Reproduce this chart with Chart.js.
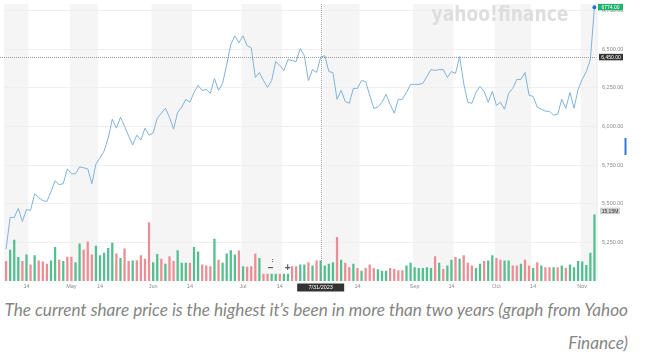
<!DOCTYPE html>
<html>
<head>
<meta charset="utf-8">
<script src="https://cdn.jsdelivr.net/npm/chart.js@4.4.0/dist/chart.umd.min.js"></script>
<style>
  html, body { margin: 0; padding: 0; background: #fff; }
  #wrap { position: relative; width: 645px; height: 358px; overflow: hidden; }
  canvas { position: absolute; left: 0; top: 0; }
  .cap { position: absolute; right: 17px; font-family: Lato, "Open Sans", sans-serif; font-style: italic; font-weight: 400; color: #858585; font-size: 17px; white-space: nowrap; line-height: 20px; }
</style>
</head>
<body>
<div id="wrap">
  <canvas id="c" width="645" height="297"></canvas>
  <div class="cap" id="cap1" style="top:300px">The current share price is the highest it’s been in more than two years (graph from Yahoo</div>
  <div class="cap" id="cap2" style="top:333px">Finance)</div>
</div>
<script>
// ---------------- data ----------------
const firstDay = '2023-04-07';
const lastDay = '2023-11-07';
const holidays = ['2023-05-03','2023-05-04','2023-05-05','2023-07-17','2023-08-11','2023-09-18','2023-10-09','2023-11-03'];

const prices = [5204,5410,5410,5468,5384,5461,5455,5564,5539,5519,
5513,5577,5648,5622,5629,5725,5693,5693,5738,5732,
5725,5629,5757,5796,5841,5925,6047,5989,6060,6002,
5938,5880,5944,5912,5989,5944,5957,6054,6086,6118,
6060,5983,6092,6125,6176,6157,6221,6266,6234,6240,
6215,6311,6234,6279,6401,6530,6588,6543,6588,6524,
6511,6318,6350,6298,6253,6298,6421,6395,6363,6434,
6427,6421,6505,6459,6298,6369,6350,6450,6459,6356,
6350,6176,6234,6163,6150,6247,6247,6298,6292,6202,
6118,6125,6157,6208,6144,6086,6176,6176,6221,6273,
6273,6273,6279,6324,6369,6363,6369,6369,6318,6356,
6344,6453,6279,6157,6150,6221,6260,6228,6157,6228,
6137,6157,6112,6215,6247,6305,6305,6350,6202,6195,
6125,6112,6099,6099,6073,6079,6176,6118,6221,6118,
6240,6305,6356,6434,6774];

// volume in millions
const volumes = [4.5,7.1,9.4,5.4,4.5,6.0,3.7,5.8,4.6,4.4,
3.9,4.6,7.7,4.8,4.5,5.5,5.5,4.2,8.5,7.1,
9.0,6.0,8.0,5.8,6.4,7.5,8.7,6.2,5.2,7.4,
4.5,4.6,4.7,5.8,5.0,13.4,4.2,6.1,5.0,3.9,
5.6,4.5,7.0,4.1,4.1,4.1,7.7,6.7,3.7,3.5,
3.3,9.6,4.8,4.1,6.2,7.0,6.0,6.9,3.3,3.2,
3.3,6.2,5.2,1.6,1.6,1.6,1.6,1.6,1.6,1.6,
3.3,3.3,3.7,3.7,4.2,3.5,4.6,4.6,3.5,3.9,
4.2,10.0,4.8,4.1,3.1,3.9,2.9,2.3,2.9,3.7,
2.9,2.6,2.3,2.3,2.9,2.7,2.4,2.4,3.5,4.1,
3.1,2.9,2.9,3.1,2.9,5.6,4.1,2.7,3.5,4.8,
5.4,5.0,5.8,4.1,3.5,2.9,3.9,4.5,4.6,5.8,
5.2,4.8,4.6,4.6,3.5,3.5,3.9,4.8,3.5,2.9,
4.2,3.5,3.1,3.1,3.1,3.1,3.5,2.9,3.7,3.1,
4.5,4.4,3.6,6.4,15.15];

// 1 = up day, 0 = down day
const volumeUp = [0,1,1,1,0,1,0,1,0,0,
0,1,1,0,1,0,0,1,1,0,
0,0,1,1,1,1,1,0,1,0,
0,1,0,0,0,0,1,1,0,1,
0,0,1,1,1,0,1,1,0,0,
0,1,0,1,1,1,1,0,1,0,
0,0,1,0,0,1,1,0,1,1,
0,0,1,1,0,1,0,1,1,1,
1,0,1,0,0,1,0,1,0,0,
0,1,1,1,0,0,0,0,1,1,
1,1,1,1,1,0,1,0,1,1,
0,1,0,0,0,1,1,0,1,1,
0,0,1,1,0,0,1,0,0,1,
0,1,0,0,1,0,1,0,1,1,
1,1,1,1,1];

const priceTicks = [5250,5500,5750,6000,6250,6500,6750];
const xTickDates = ['2023-04-14','2023-05-01','2023-05-15','2023-06-01','2023-06-14','2023-07-03','2023-07-14','2023-08-14','2023-09-01','2023-09-14','2023-10-02','2023-10-16','2023-11-01'];
const xTickTexts = ['14','May','14','Jun','14','Jul','14','14','Sep','14','Oct','14','Nov'];
const crossDate = '2023-07-31';
const crossDateText = '7/31/2023';
const lastPriceText = '6774.00';
const lastVolumeText = '15.15M';

// trading calendar (weekdays minus exchange holidays)
function tradingDays(a, b, hol) {
  const out = [];
  const d = new Date(a + 'T00:00:00Z'), end = new Date(b + 'T00:00:00Z');
  while (d <= end) {
    const s = d.toISOString().slice(0, 10);
    const wd = d.getUTCDay();
    if (wd !== 0 && wd !== 6 && !hol.includes(s)) out.push(s);
    d.setUTCDate(d.getUTCDate() + 1);
  }
  return out;
}
const dates = tradingDays(firstDay, lastDay, holidays);
const tickMap = {};
xTickDates.forEach((d, i) => tickMap[d] = xTickTexts[i]);

const GREEN = '#52bf8f', RED = '#ee8c94', LINE = '#80b3dd';
const fmt = v => v.toLocaleString('en-US', {minimumFractionDigits: 2, maximumFractionDigits: 2});

// ---------------- plugin: bands, crosshair, tags ----------------
const deco = {
  id: 'deco',
  beforeDraw(chart) {
    const {ctx, chartArea: a, scales: {x}} = chart;
    const w = x.getPixelForValue(1) - x.getPixelForValue(0);
    ctx.save();
    ctx.fillStyle = '#f5f5f5';
    const months = {};
    dates.forEach((d, i) => {
      const m = d.slice(0, 7), day = +d.slice(8, 10);
      if (!(m in months)) months[m] = {s: i, e: null};
      if (day <= 14) months[m].e = i;
    });
    Object.keys(months).forEach((m, k) => {
      const r = months[m];
      if (r.e === null) r.e = dates.length - 1;
      const x0 = k === 0 ? a.left : x.getPixelForValue(r.s) - w * 0.4;
      let x1 = x.getPixelForValue(r.e) + w * 0.5;
      if (r.e === dates.length - 1) x1 = a.right;
      ctx.fillRect(x0, a.top, Math.min(x1, a.right) - x0, a.bottom - a.top);
    });
    ctx.restore();
  },
  beforeDatasetsDraw(chart) {
    const {ctx, chartArea: a} = chart;
    ctx.save();
    ctx.font = 'bold 22px "DejaVu Sans", "Liberation Sans", Arial, sans-serif';
    ctx.fillStyle = '#dedede';
    ctx.textBaseline = 'middle';
    ctx.textAlign = 'right';
    const t = 'yahoo!finance';
    const tw = ctx.measureText(t).width;
    ctx.translate(a.right - 28, 15);
    ctx.scale(137 / tw, 1);
    ctx.fillText(t, 0, 0);
    ctx.restore();
  },
  afterDatasetsDraw(chart) {
    const {ctx, chartArea: a, scales: {x, y, yv}} = chart;
    const ci = dates.indexOf(crossDate);
    const cx = x.getPixelForValue(ci);
    const cy = y.getPixelForValue(prices[ci]);
    ctx.save();
    ctx.strokeStyle = '#9a9a9a';
    ctx.lineWidth = 1;
    ctx.setLineDash([1, 1]);
    ctx.beginPath();
    ctx.moveTo(Math.round(cx) + 0.5, a.top);
    ctx.lineTo(Math.round(cx) + 0.5, a.bottom);
    ctx.moveTo(0, Math.round(cy) + 0.5);
    ctx.lineTo(a.right, Math.round(cy) + 0.5);
    ctx.stroke();
    ctx.setLineDash([]);

    ctx.strokeStyle = '#e8e8e8';
    ctx.beginPath();
    ctx.moveTo(a.right + 0.5, a.top);
    ctx.lineTo(a.right + 0.5, a.bottom);
    ctx.stroke();

    ctx.font = '5px "Liberation Sans", Arial, sans-serif';
    ctx.textBaseline = 'middle';
    ctx.textAlign = 'center';
    function tag(cxp, cyp, w, h, bg, fg, txt) {
      ctx.fillStyle = bg;
      ctx.fillRect(cxp - w / 2, cyp - h / 2, w, h);
      ctx.fillStyle = fg;
      ctx.fillText(txt, cxp, cyp + 0.3);
    }
    const li = prices.length - 1;
    const ly = y.getPixelForValue(prices[li]);
    tag(a.right + 14, ly, 25, 6.5, '#23b06c', '#fff', lastPriceText);
    tag(a.right + 14.5, cy, 24, 6.5, '#333333', '#fff', fmt(prices[ci]));
    const vy = yv.getPixelForValue(volumes[li]);
    tag(a.right + 13.5, vy - 4, 20, 6.5, '#cfcfcf', '#333', lastVolumeText);
    ctx.font = '5.5px "Liberation Sans", Arial, sans-serif';
    tag(cx, a.bottom + 6.5, 47, 8, '#333333', '#fff', crossDateText);

    ctx.fillStyle = '#2f7de1';
    ctx.fillRect(a.right + 28, 138, 2, 17);

    ctx.fillStyle = '#555';
    ctx.font = 'bold 10px "Liberation Sans", Arial, sans-serif';
    ctx.fillText('−', cx - 50, 268);
    ctx.fillText('+', cx - 33, 268);
    ctx.fillRect(cx - 48.5, 259, 1, 1);
    ctx.fillRect(cx - 48.5, 261, 1, 1);
    ctx.restore();
  }
};

new Chart(document.getElementById('c'), {
  data: {
    labels: dates,
    datasets: [
      {
        type: 'line',
        data: prices,
        yAxisID: 'y',
        borderColor: LINE,
        borderWidth: 1,
        pointRadius: c => c.dataIndex === prices.length - 1 ? 2 : 0,
        pointBackgroundColor: '#1f6fe0',
        pointBorderWidth: 0,
        tension: 0,
        order: 1
      },
      {
        type: 'bar',
        data: volumes,
        yAxisID: 'yv',
        backgroundColor: volumeUp.map(u => u ? GREEN : RED),
        barThickness: 1.6,
        order: 2
      }
    ]
  },
  options: {
    responsive: false,
    animation: false,
    devicePixelRatio: 1,
    layout: {padding: {left: 2.5, top: 2, right: 0, bottom: 0}},
    plugins: {legend: {display: false}, tooltip: {enabled: false}},
    scales: {
      x: {
        type: 'category',
        offset: true,
        grid: {display: false, drawTicks: false},
        border: {display: false},
        ticks: {
          autoSkip: false, maxRotation: 0, minRotation: 0, padding: 2.5,
          color: '#8a8a8a',
          font: {size: 5.5, family: '"Liberation Sans", Arial, sans-serif'},
          callback: (v, i) => tickMap[dates[i]] || ''
        },
        afterFit: s => { s.height = 16; s.paddingLeft = 0; s.paddingRight = 0; }
      },
      y: {
        position: 'right',
        min: 4997.6,
        max: 6794.3,
        grid: {color: '#efefef', lineWidth: 1, drawTicks: false},
        border: {display: false},
        afterBuildTicks: s => { s.ticks = priceTicks.map(v => ({value: v})); },
        ticks: {
          padding: 5.5,
          color: '#8a8a8a',
          font: {size: 5.5, family: '"Liberation Sans", Arial, sans-serif'},
          callback: v => fmt(v)
        },
        afterFit: s => { s.width = 48.5; s.paddingTop = 0; s.paddingBottom = 0; }
      },
      yv: {
        display: false,
        min: 0,
        max: 63.5
      }
    }
  },
  plugins: [deco]
});

// fit caption line 1 to the reference width
const c1 = document.getElementById('cap1'), c2 = document.getElementById('cap2');
const fs = 17 * 624 / c1.offsetWidth;
c1.style.fontSize = fs + 'px';
c2.style.fontSize = fs + 'px';
</script>
</body>
</html>
